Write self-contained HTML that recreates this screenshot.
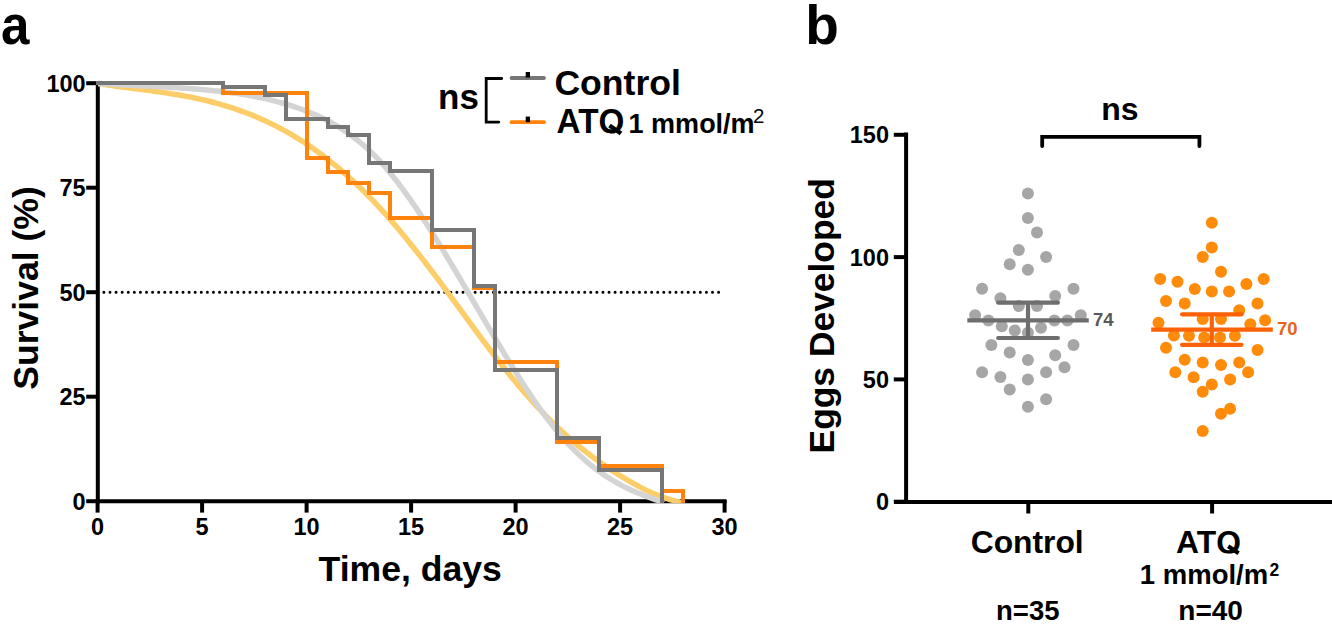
<!DOCTYPE html>
<html><head><meta charset="utf-8"><style>
html,body{margin:0;padding:0;background:#fff;}
body{width:1332px;height:624px;overflow:hidden;position:relative;}
svg{position:absolute;left:0;top:0;}
text{font-family:"Liberation Sans", sans-serif;}
</style></head><body>
<svg width="1332" height="624" viewBox="0 0 1332 624">
<text x="0" y="0" font-size="55" font-weight="bold" text-anchor="start" fill="#000" transform="translate(0.9,44) scale(0.93,1)">a</text>
<line x1="103.9" y1="292.3" x2="718.7" y2="292.3" stroke="#000" stroke-width="3" stroke-linecap="round" stroke-dasharray="0 6.086"/>
<g stroke="#000" stroke-width="4" fill="none">
<line x1="97.8" y1="81.2" x2="97.8" y2="503.2"/>
<line x1="95.8" y1="501.2" x2="726.6" y2="501.2"/>
<line x1="86.2" y1="83.2" x2="98" y2="83.2"/>
<line x1="86.2" y1="187.7" x2="98" y2="187.7"/>
<line x1="86.2" y1="292.2" x2="98" y2="292.2"/>
<line x1="86.2" y1="396.7" x2="98" y2="396.7"/>
<line x1="86.2" y1="501.2" x2="98" y2="501.2"/>
<line x1="97.6" y1="500" x2="97.6" y2="512.6"/>
<line x1="202.1" y1="500" x2="202.1" y2="512.6"/>
<line x1="306.6" y1="500" x2="306.6" y2="512.6"/>
<line x1="411.1" y1="500" x2="411.1" y2="512.6"/>
<line x1="515.6" y1="500" x2="515.6" y2="512.6"/>
<line x1="620.1" y1="500" x2="620.1" y2="512.6"/>
<line x1="724.6" y1="500" x2="724.6" y2="512.6"/>
</g>
<text x="85.6" y="91.8" font-size="23.5" font-weight="bold" text-anchor="end" fill="#000" >100</text>
<text x="85.6" y="196.3" font-size="23.5" font-weight="bold" text-anchor="end" fill="#000" >75</text>
<text x="85.6" y="300.8" font-size="23.5" font-weight="bold" text-anchor="end" fill="#000" >50</text>
<text x="85.6" y="405.3" font-size="23.5" font-weight="bold" text-anchor="end" fill="#000" >25</text>
<text x="85.6" y="509.8" font-size="23.5" font-weight="bold" text-anchor="end" fill="#000" >0</text>
<text x="97.6" y="534.6" font-size="23.5" font-weight="bold" text-anchor="middle" fill="#000" >0</text>
<text x="202.1" y="534.6" font-size="23.5" font-weight="bold" text-anchor="middle" fill="#000" >5</text>
<text x="306.6" y="534.6" font-size="23.5" font-weight="bold" text-anchor="middle" fill="#000" >10</text>
<text x="411.1" y="534.6" font-size="23.5" font-weight="bold" text-anchor="middle" fill="#000" >15</text>
<text x="515.6" y="534.6" font-size="23.5" font-weight="bold" text-anchor="middle" fill="#000" >20</text>
<text x="620.1" y="534.6" font-size="23.5" font-weight="bold" text-anchor="middle" fill="#000" >25</text>
<text x="724.6" y="534.6" font-size="23.5" font-weight="bold" text-anchor="middle" fill="#000" >30</text>
<defs><clipPath id="pa"><rect x="98" y="60" width="640" height="443.3"/></clipPath></defs>
<g clip-path="url(#pa)"><path d="M98.0,83.5 L100.0,83.8 L102.0,84.1 L104.0,84.4 L106.0,84.7 L108.0,85.0 L110.0,85.3 L112.0,85.6 L114.0,85.9 L116.0,86.2 L118.0,86.4 L120.0,86.7 L122.0,87.0 L124.0,87.2 L126.0,87.5 L128.0,87.8 L130.0,88.0 L132.0,88.3 L134.0,88.5 L136.0,88.8 L138.0,89.1 L140.0,89.3 L142.0,89.6 L144.0,89.9 L146.0,90.1 L148.0,90.4 L150.0,90.6 L152.0,90.9 L154.0,91.2 L156.0,91.5 L158.0,91.8 L160.0,92.0 L162.0,92.3 L164.0,92.6 L166.0,92.9 L168.0,93.2 L170.0,93.5 L172.0,93.9 L174.0,94.2 L176.0,94.5 L178.0,94.8 L180.0,95.2 L182.0,95.5 L184.0,95.9 L186.0,96.3 L188.0,96.6 L190.0,97.0 L192.0,97.4 L194.0,97.8 L196.0,98.3 L198.0,98.7 L200.0,99.1 L202.0,99.6 L204.0,100.0 L206.0,100.5 L208.0,101.0 L210.0,101.5 L212.0,102.0 L214.0,102.5 L216.0,103.1 L218.0,103.6 L220.0,104.2 L222.0,104.8 L224.0,105.3 L226.0,105.9 L228.0,106.6 L230.0,107.2 L232.0,107.8 L234.0,108.5 L236.0,109.2 L238.0,109.9 L240.0,110.6 L242.0,111.3 L244.0,112.0 L246.0,112.8 L248.0,113.5 L250.0,114.3 L252.0,115.1 L254.0,115.9 L256.0,116.8 L258.0,117.6 L260.0,118.5 L262.0,119.4 L264.0,120.3 L266.0,121.2 L268.0,122.1 L270.0,123.1 L272.0,124.1 L274.0,125.1 L276.0,126.1 L278.0,127.1 L280.0,128.2 L282.0,129.2 L284.0,130.3 L286.0,131.4 L288.0,132.6 L290.0,133.7 L292.0,134.9 L294.0,136.1 L296.0,137.3 L298.0,138.5 L300.0,139.8 L302.0,141.0 L304.0,142.3 L306.0,143.7 L308.0,145.0 L310.0,146.4 L312.0,147.7 L314.0,149.1 L316.0,150.6 L318.0,152.0 L320.0,153.5 L322.0,155.0 L324.0,156.5 L326.0,158.0 L328.0,159.6 L330.0,161.2 L332.0,162.8 L334.0,164.4 L336.0,166.0 L338.0,167.7 L340.0,169.4 L342.0,171.1 L344.0,172.9 L346.0,174.6 L348.0,176.4 L350.0,178.2 L352.0,180.0 L354.0,181.9 L356.0,183.8 L358.0,185.7 L360.0,187.6 L362.0,189.5 L364.0,191.5 L366.0,193.5 L368.0,195.5 L370.0,197.6 L372.0,199.6 L374.0,201.7 L376.0,203.8 L378.0,206.0 L380.0,208.1 L382.0,210.3 L384.0,212.5 L386.0,214.8 L388.0,217.0 L390.0,219.3 L392.0,221.6 L394.0,223.9 L396.0,226.2 L398.0,228.6 L400.0,231.0 L402.0,233.4 L404.0,235.8 L406.0,238.2 L408.0,240.7 L410.0,243.2 L412.0,245.7 L414.0,248.2 L416.0,250.7 L418.0,253.2 L420.0,255.8 L422.0,258.3 L424.0,260.9 L426.0,263.5 L428.0,266.1 L430.0,268.7 L432.0,271.4 L434.0,274.0 L436.0,276.7 L438.0,279.3 L440.0,282.0 L442.0,284.7 L444.0,287.4 L446.0,290.1 L448.0,292.8 L450.0,295.5 L452.0,298.3 L454.0,301.0 L456.0,303.7 L458.0,306.4 L460.0,309.2 L462.0,311.9 L464.0,314.6 L466.0,317.4 L468.0,320.1 L470.0,322.8 L472.0,325.6 L474.0,328.3 L476.0,331.0 L478.0,333.7 L480.0,336.4 L482.0,339.1 L484.0,341.7 L486.0,344.4 L488.0,347.1 L490.0,349.7 L492.0,352.3 L494.0,355.0 L496.0,357.5 L498.0,360.1 L500.0,362.7 L502.0,365.2 L504.0,367.8 L506.0,370.3 L508.0,372.8 L510.0,375.2 L512.0,377.7 L514.0,380.1 L516.0,382.5 L518.0,384.9 L520.0,387.3 L522.0,389.6 L524.0,391.9 L526.0,394.2 L528.0,396.5 L530.0,398.8 L532.0,401.0 L534.0,403.2 L536.0,405.4 L538.0,407.6 L540.0,409.7 L542.0,411.8 L544.0,413.9 L546.0,416.0 L548.0,418.0 L550.0,420.0 L552.0,422.0 L554.0,424.0 L556.0,425.9 L558.0,427.8 L560.0,429.7 L562.0,431.6 L564.0,433.4 L566.0,435.2 L568.0,437.0 L570.0,438.7 L572.0,440.5 L574.0,442.2 L576.0,443.9 L578.0,445.5 L580.0,447.1 L582.0,448.8 L584.0,450.3 L586.0,451.9 L588.0,453.4 L590.0,455.0 L592.0,456.5 L594.0,458.0 L596.0,459.4 L598.0,460.9 L600.0,462.3 L602.0,463.7 L604.0,465.1 L606.0,466.4 L608.0,467.8 L610.0,469.1 L612.0,470.4 L614.0,471.7 L616.0,473.0 L618.0,474.3 L620.0,475.5 L622.0,476.8 L624.0,478.0 L626.0,479.2 L628.0,480.4 L630.0,481.5 L632.0,482.7 L634.0,483.8 L636.0,484.9 L638.0,486.0 L640.0,487.1 L642.0,488.1 L644.0,489.1 L646.0,490.1 L648.0,491.1 L650.0,492.0 L652.0,492.9 L654.0,493.8 L656.0,494.6 L658.0,495.4 L660.0,496.2 L662.0,496.9 L664.0,497.6 L666.0,498.3 L668.0,498.9 L670.0,499.5 L672.0,500.1 L674.0,500.6 L676.0,501.1 L678.0,501.5 L681,503.5" fill="none" stroke="#fdcd6a" stroke-width="5.5" stroke-linejoin="round"/>
<path d="M98.0,83.3 L100.0,83.4 L102.0,83.6 L104.0,83.7 L106.0,83.8 L108.0,83.9 L110.0,84.1 L112.0,84.2 L114.0,84.3 L116.0,84.4 L118.0,84.5 L120.0,84.6 L122.0,84.8 L124.0,84.9 L126.0,85.0 L128.0,85.1 L130.0,85.2 L132.0,85.3 L134.0,85.4 L136.0,85.5 L138.0,85.6 L140.0,85.7 L142.0,85.8 L144.0,85.9 L146.0,86.0 L148.0,86.1 L150.0,86.2 L152.0,86.3 L154.0,86.4 L156.0,86.5 L158.0,86.6 L160.0,86.7 L162.0,86.8 L164.0,86.9 L166.0,87.0 L168.0,87.2 L170.0,87.3 L172.0,87.4 L174.0,87.5 L176.0,87.6 L178.0,87.8 L180.0,87.9 L182.0,88.0 L184.0,88.2 L186.0,88.3 L188.0,88.4 L190.0,88.6 L192.0,88.7 L194.0,88.9 L196.0,89.0 L198.0,89.2 L200.0,89.4 L202.0,89.5 L204.0,89.7 L206.0,89.9 L208.0,90.1 L210.0,90.3 L212.0,90.4 L214.0,90.7 L216.0,90.9 L218.0,91.1 L220.0,91.3 L222.0,91.5 L224.0,91.8 L226.0,92.0 L228.0,92.3 L230.0,92.5 L232.0,92.8 L234.0,93.1 L236.0,93.3 L238.0,93.6 L240.0,93.9 L242.0,94.3 L244.0,94.6 L246.0,94.9 L248.0,95.3 L250.0,95.6 L252.0,96.0 L254.0,96.4 L256.0,96.8 L258.0,97.2 L260.0,97.6 L262.0,98.0 L264.0,98.4 L266.0,98.9 L268.0,99.3 L270.0,99.8 L272.0,100.3 L274.0,100.8 L276.0,101.3 L278.0,101.9 L280.0,102.4 L282.0,103.0 L284.0,103.5 L286.0,104.1 L288.0,104.7 L290.0,105.4 L292.0,106.0 L294.0,106.7 L296.0,107.3 L298.0,108.0 L300.0,108.7 L302.0,109.5 L304.0,110.2 L306.0,111.0 L308.0,111.7 L310.0,112.6 L312.0,113.4 L314.0,114.2 L316.0,115.1 L318.0,116.0 L320.0,116.9 L322.0,117.9 L324.0,118.8 L326.0,119.9 L328.0,120.9 L330.0,122.0 L332.0,123.1 L334.0,124.2 L336.0,125.3 L338.0,126.5 L340.0,127.8 L342.0,129.0 L344.0,130.4 L346.0,131.7 L348.0,133.1 L350.0,134.5 L352.0,136.0 L354.0,137.5 L356.0,139.0 L358.0,140.6 L360.0,142.3 L362.0,143.9 L364.0,145.7 L366.0,147.4 L368.0,149.3 L370.0,151.1 L372.0,153.1 L374.0,155.0 L376.0,157.1 L378.0,159.2 L380.0,161.3 L382.0,163.5 L384.0,165.7 L386.0,168.0 L388.0,170.4 L390.0,172.8 L392.0,175.2 L394.0,177.7 L396.0,180.2 L398.0,182.8 L400.0,185.5 L402.0,188.1 L404.0,190.8 L406.0,193.6 L408.0,196.4 L410.0,199.2 L412.0,202.1 L414.0,205.0 L416.0,207.9 L418.0,210.9 L420.0,213.9 L422.0,216.9 L424.0,220.0 L426.0,223.1 L428.0,226.2 L430.0,229.3 L432.0,232.5 L434.0,235.7 L436.0,238.9 L438.0,242.1 L440.0,245.4 L442.0,248.6 L444.0,251.9 L446.0,255.2 L448.0,258.5 L450.0,261.9 L452.0,265.2 L454.0,268.5 L456.0,271.9 L458.0,275.3 L460.0,278.7 L462.0,282.1 L464.0,285.4 L466.0,288.8 L468.0,292.3 L470.0,295.7 L472.0,299.1 L474.0,302.5 L476.0,305.9 L478.0,309.3 L480.0,312.7 L482.0,316.1 L484.0,319.5 L486.0,322.9 L488.0,326.3 L490.0,329.7 L492.0,333.1 L494.0,336.5 L496.0,339.8 L498.0,343.2 L500.0,346.5 L502.0,349.8 L504.0,353.2 L506.0,356.4 L508.0,359.7 L510.0,363.0 L512.0,366.2 L514.0,369.4 L516.0,372.6 L518.0,375.8 L520.0,379.0 L522.0,382.1 L524.0,385.2 L526.0,388.2 L528.0,391.3 L530.0,394.3 L532.0,397.2 L534.0,400.2 L536.0,403.1 L538.0,406.0 L540.0,408.8 L542.0,411.6 L544.0,414.3 L546.0,417.0 L548.0,419.7 L550.0,422.3 L552.0,424.9 L554.0,427.4 L556.0,429.9 L558.0,432.3 L560.0,434.7 L562.0,437.0 L564.0,439.3 L566.0,441.5 L568.0,443.7 L570.0,445.8 L572.0,447.9 L574.0,449.9 L576.0,451.9 L578.0,453.8 L580.0,455.7 L582.0,457.5 L584.0,459.3 L586.0,461.0 L588.0,462.7 L590.0,464.4 L592.0,466.0 L594.0,467.6 L596.0,469.1 L598.0,470.6 L600.0,472.1 L602.0,473.5 L604.0,474.9 L606.0,476.2 L608.0,477.5 L610.0,478.8 L612.0,480.0 L614.0,481.2 L616.0,482.3 L618.0,483.4 L620.0,484.5 L622.0,485.6 L624.0,486.6 L626.0,487.6 L628.0,488.6 L630.0,489.5 L632.0,490.4 L634.0,491.3 L636.0,492.2 L638.0,493.0 L640.0,493.8 L642.0,494.6 L644.0,495.4 L646.0,496.2 L648.0,496.9 L650.0,497.7 L652.0,498.4 L654.0,499.1 L656.0,499.8 L658.0,500.5 L660.0,501.2 L660.8,501.5 L663,503.5" fill="none" stroke="#d4d4d4" stroke-width="5.5" stroke-linejoin="round"/></g>
<path d="M223.0,86 V93.0 H307.0 V158.0 H328.0 V172.0 H348.0 V183.0 H369.0 V193.0 H390.0 V218.0 H432.0 V247.0 H474.0 V288.0 H495.0 V362.0 H557.0 V442.0 H599.0 V466.0 H662.0 V491.0 H683.0 V503.0" fill="none" stroke="#fd830c" stroke-width="4" stroke-linejoin="miter"/>
<path d="M96,83  H223.0 V87.0 H265.0 V95.0 H286.0 V119.0 H328.0 V127.0 H348.0 V135.0 H369.0 V163.0 H390.0 V171.0 H432.0 V230.0 H474.0 V286.0 H495.0 V370.0 H557.0 V438.0 H599.0 V470.0 H662.0 V503.0" fill="none" stroke="#767676" stroke-width="4" stroke-linejoin="miter"/>
<text x="410.2" y="580.5" font-size="35.6" font-weight="bold" text-anchor="middle" fill="#000" >Time, days</text>
<text x="0" y="0" font-size="35.6" font-weight="bold" text-anchor="middle" fill="#000" transform="translate(38.2,288) rotate(-90)">Survival (%)</text>
<text x="438" y="109" font-size="35" font-weight="bold" text-anchor="start" fill="#000" >ns</text>
<path d="M501.7,78.5 H486.2 V122.1 H498.8" fill="none" stroke="#000" stroke-width="2.8" stroke-linecap="round"/>
<line x1="511.5" y1="78" x2="544" y2="78" stroke="#767676" stroke-width="3.8" stroke-linecap="round"/>
<line x1="511.5" y1="122.2" x2="544" y2="122.2" stroke="#fd830c" stroke-width="3.8" stroke-linecap="round"/>
<rect x="525.7" y="72" width="4.3" height="5.6" fill="#000"/>
<rect x="525.7" y="116.6" width="4.3" height="5.6" fill="#000"/>
<text x="554.4" y="94.7" font-size="35.6" font-weight="bold" text-anchor="start" fill="#000" >Control</text>
<clipPath id="cq1"><rect x="540" y="100" width="100" height="33.5"/></clipPath>
<g clip-path="url(#cq1)"><text x="0" y="0" font-size="35" font-weight="bold" text-anchor="start" fill="#000" transform="translate(556.6,132.8) scale(0.95,1)">ATQ</text></g>
<line x1="609.5" y1="125.5" x2="621" y2="133.5" stroke="#000" stroke-width="4.4"/>
<text x="628.6" y="133.3" font-size="27" font-weight="bold" text-anchor="start" fill="#000" >1 mmol/m</text>
<text x="753" y="123.3" font-size="20.5" font-weight="normal" text-anchor="start" fill="#000" >2</text>
<text x="805.3" y="43.5" font-size="55" font-weight="bold" text-anchor="start" fill="#000" >b</text>
<g stroke="#000" stroke-width="4" fill="none">
<line x1="906.1" y1="132.6" x2="906.1" y2="504"/>
<line x1="894" y1="502" x2="1332" y2="502"/>
<line x1="893.8" y1="134.8" x2="906" y2="134.8"/>
<line x1="893.8" y1="257.1" x2="906" y2="257.1"/>
<line x1="893.8" y1="379.4" x2="906" y2="379.4"/>
<line x1="893.8" y1="501.7" x2="906" y2="501.7"/>
<line x1="1028.3" y1="502" x2="1028.3" y2="513.5"/>
<line x1="1212.1" y1="502" x2="1212.1" y2="513.5"/>
</g>
<text x="889" y="143.4" font-size="23.5" font-weight="bold" text-anchor="end" fill="#000" >150</text>
<text x="889" y="265.7" font-size="23.5" font-weight="bold" text-anchor="end" fill="#000" >100</text>
<text x="889" y="388.0" font-size="23.5" font-weight="bold" text-anchor="end" fill="#000" >50</text>
<text x="889" y="510.3" font-size="23.5" font-weight="bold" text-anchor="end" fill="#000" >0</text>
<text x="0" y="0" font-size="35.4" font-weight="bold" text-anchor="middle" fill="#000" transform="translate(834,315.8) rotate(-90)">Eggs Developed</text>
<path d="M1042.2,146 V136.8 H1199.4 V146" fill="none" stroke="#000" stroke-width="3.8" stroke-linecap="round" stroke-linejoin="miter"/>
<text x="1119.9" y="119.8" font-size="32" font-weight="bold" text-anchor="middle" fill="#000" >ns</text>
<circle cx="1027.9" cy="193.4" r="6" fill="#a6a6a6"/>
<circle cx="1027.9" cy="217.9" r="6" fill="#a6a6a6"/>
<circle cx="1037" cy="232.6" r="6" fill="#a6a6a6"/>
<circle cx="1018.8" cy="249.9" r="6" fill="#a6a6a6"/>
<circle cx="1046.1" cy="257.1" r="6" fill="#a6a6a6"/>
<circle cx="1009.7" cy="264.3" r="6" fill="#a6a6a6"/>
<circle cx="1027.9" cy="269.7" r="6" fill="#a6a6a6"/>
<circle cx="982.1" cy="288.8" r="6" fill="#a6a6a6"/>
<circle cx="1073.5" cy="288.8" r="6" fill="#a6a6a6"/>
<circle cx="1000.4" cy="298.2" r="6" fill="#a6a6a6"/>
<circle cx="1055.2" cy="296" r="6" fill="#a6a6a6"/>
<circle cx="1018.8" cy="306.1" r="6" fill="#a6a6a6"/>
<circle cx="1037" cy="306.1" r="6" fill="#a6a6a6"/>
<circle cx="975.1" cy="315.2" r="6" fill="#a6a6a6"/>
<circle cx="1080.8" cy="315.2" r="6" fill="#a6a6a6"/>
<circle cx="988.4" cy="320.6" r="6" fill="#a6a6a6"/>
<circle cx="1054.4" cy="320.6" r="6" fill="#a6a6a6"/>
<circle cx="1067.4" cy="320.6" r="6" fill="#a6a6a6"/>
<circle cx="1001.8" cy="326.3" r="6" fill="#a6a6a6"/>
<circle cx="1014.8" cy="330.4" r="6" fill="#a6a6a6"/>
<circle cx="1041" cy="327.8" r="6" fill="#a6a6a6"/>
<circle cx="1027.9" cy="332.8" r="6" fill="#a6a6a6"/>
<circle cx="991.4" cy="345.1" r="6" fill="#a6a6a6"/>
<circle cx="1073.5" cy="345.1" r="6" fill="#a6a6a6"/>
<circle cx="1009.7" cy="352.6" r="6" fill="#a6a6a6"/>
<circle cx="1055.2" cy="355.2" r="6" fill="#a6a6a6"/>
<circle cx="1027.9" cy="360" r="6" fill="#a6a6a6"/>
<circle cx="982.1" cy="372.2" r="6" fill="#a6a6a6"/>
<circle cx="1064.5" cy="367.2" r="6" fill="#a6a6a6"/>
<circle cx="1046.1" cy="372.2" r="6" fill="#a6a6a6"/>
<circle cx="1000.4" cy="377.1" r="6" fill="#a6a6a6"/>
<circle cx="1027.9" cy="379.5" r="6" fill="#a6a6a6"/>
<circle cx="1009.7" cy="389.4" r="6" fill="#a6a6a6"/>
<circle cx="1046.1" cy="399.2" r="6" fill="#a6a6a6"/>
<circle cx="1027.9" cy="406.7" r="6" fill="#a6a6a6"/>
<circle cx="1211.8" cy="222.7" r="6" fill="#fe8b0a"/>
<circle cx="1211.8" cy="247.5" r="6" fill="#fe8b0a"/>
<circle cx="1202.7" cy="256.9" r="6" fill="#fe8b0a"/>
<circle cx="1221" cy="271.7" r="6" fill="#fe8b0a"/>
<circle cx="1160.2" cy="278.9" r="6" fill="#fe8b0a"/>
<circle cx="1263.7" cy="278.9" r="6" fill="#fe8b0a"/>
<circle cx="1177.5" cy="281.7" r="6" fill="#fe8b0a"/>
<circle cx="1246.4" cy="284" r="6" fill="#fe8b0a"/>
<circle cx="1194.8" cy="288.9" r="6" fill="#fe8b0a"/>
<circle cx="1211.8" cy="291.5" r="6" fill="#fe8b0a"/>
<circle cx="1229.1" cy="291.5" r="6" fill="#fe8b0a"/>
<circle cx="1166" cy="300.9" r="6" fill="#fe8b0a"/>
<circle cx="1184.7" cy="303.5" r="6" fill="#fe8b0a"/>
<circle cx="1257.5" cy="303.5" r="6" fill="#fe8b0a"/>
<circle cx="1239.2" cy="310.2" r="6" fill="#fe8b0a"/>
<circle cx="1202.7" cy="318.9" r="6" fill="#fe8b0a"/>
<circle cx="1221" cy="318.9" r="6" fill="#fe8b0a"/>
<circle cx="1158.5" cy="322.8" r="6" fill="#fe8b0a"/>
<circle cx="1265.1" cy="320.3" r="6" fill="#fe8b0a"/>
<circle cx="1250.3" cy="324.2" r="6" fill="#fe8b0a"/>
<circle cx="1173.9" cy="335.5" r="6" fill="#fe8b0a"/>
<circle cx="1189" cy="335.7" r="6" fill="#fe8b0a"/>
<circle cx="1204.2" cy="337.6" r="6" fill="#fe8b0a"/>
<circle cx="1220" cy="337.6" r="6" fill="#fe8b0a"/>
<circle cx="1234.9" cy="335.7" r="6" fill="#fe8b0a"/>
<circle cx="1166" cy="347.7" r="6" fill="#fe8b0a"/>
<circle cx="1257.5" cy="349.9" r="6" fill="#fe8b0a"/>
<circle cx="1184.7" cy="359.7" r="6" fill="#fe8b0a"/>
<circle cx="1202.7" cy="362.4" r="6" fill="#fe8b0a"/>
<circle cx="1221" cy="365" r="6" fill="#fe8b0a"/>
<circle cx="1239.2" cy="362.4" r="6" fill="#fe8b0a"/>
<circle cx="1175.3" cy="372.3" r="6" fill="#fe8b0a"/>
<circle cx="1193.6" cy="377.3" r="6" fill="#fe8b0a"/>
<circle cx="1248.1" cy="372.3" r="6" fill="#fe8b0a"/>
<circle cx="1230.1" cy="379.5" r="6" fill="#fe8b0a"/>
<circle cx="1211.8" cy="384.6" r="6" fill="#fe8b0a"/>
<circle cx="1202.7" cy="391.8" r="6" fill="#fe8b0a"/>
<circle cx="1230.1" cy="408.8" r="6" fill="#fe8b0a"/>
<circle cx="1221" cy="413.8" r="6" fill="#fe8b0a"/>
<circle cx="1202.7" cy="431" r="6" fill="#fe8b0a"/>
<g stroke="#6e6e6e" stroke-width="4.2" stroke-linecap="round" fill="none"><line x1="967.3" y1="320.3" x2="1088.8" y2="320.3" stroke-linecap="butt"/><line x1="998.2" y1="302.7" x2="1057.9" y2="302.7"/><line x1="998.2" y1="338" x2="1057.9" y2="338"/><line x1="1028" y1="302.7" x2="1028" y2="338" stroke-linecap="butt"/></g>
<g stroke="#fd6208" stroke-width="4.2" stroke-linecap="round" fill="none"><line x1="1151.2" y1="329.7" x2="1272.8" y2="329.7" stroke-linecap="butt"/><line x1="1182.1" y1="314.3" x2="1241.5" y2="314.3"/><line x1="1182.1" y1="344.8" x2="1241.5" y2="344.8"/><line x1="1211.8" y1="314.3" x2="1211.8" y2="344.8" stroke-linecap="butt"/></g>
<text x="1093" y="326.4" font-size="18.5" font-weight="bold" text-anchor="start" fill="#5a5a5a" >74</text>
<text x="1277" y="334.7" font-size="18.5" font-weight="bold" text-anchor="start" fill="#e8631a" >70</text>
<text x="1027.2" y="552.6" font-size="31.8" font-weight="bold" text-anchor="middle" fill="#000" >Control</text>
<clipPath id="cq2"><rect x="1150" y="520" width="120" height="33.4"/></clipPath>
<text x="1208.5" y="552.7" font-size="31.8" font-weight="bold" text-anchor="middle" fill="#000" clip-path="url(#cq2)">ATQ</text>
<line x1="1228.2" y1="546.2" x2="1238.6" y2="553.2" stroke="#000" stroke-width="4.2"/>
<text x="1139.8" y="583.5" font-size="27.5" font-weight="bold" text-anchor="start" fill="#000" >1 mmol/m</text>
<text x="1269.6" y="575.8" font-size="17.5" font-weight="bold" text-anchor="start" fill="#000" >2</text>
<text x="1027.8" y="620.1" font-size="27.5" font-weight="bold" text-anchor="middle" fill="#000" >n=35</text>
<text x="1210.6" y="620" font-size="28" font-weight="bold" text-anchor="middle" fill="#000" >n=40</text>
</svg></body></html>
